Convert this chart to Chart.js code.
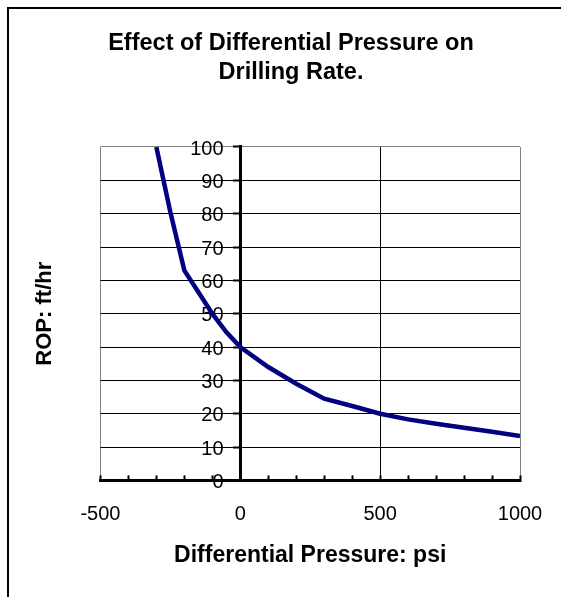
<!DOCTYPE html>
<html>
<head>
<meta charset="utf-8">
<script src="https://cdn.jsdelivr.net/npm/chart.js@4/dist/chart.umd.min.js"></script>
<style>
  html, body { margin: 0; padding: 0; background: #fff; overflow: hidden; }
  #wrap { position: relative; width: 561px; height: 597px; }
  #frame { position: absolute; left: 7px; top: 7px; right: -10px; bottom: -10px; border: 2px solid #000; pointer-events: none; }
  canvas { position: absolute; left: 0; top: 0; }
</style>
</head>
<body>
<div id="wrap">
  <canvas id="chart" width="561" height="597"></canvas>
  <div id="frame"></div>
</div>
<script>
// data
const pressure = [-300, -250, -200, -150, -100, -50, 0, 100, 200, 300, 400, 500, 600, 700, 800, 900, 1000];
const rop = [100, 80.5, 63, 56.5, 50, 44.5, 40, 34, 29, 24.5, 22.3, 20, 18.3, 17, 15.8, 14.6, 13.3];

const xMin = -500, xMax = 1000, xStep = 100, xLabelStep = 500;
const yMin = 0, yMax = 100, yStep = 10;

const titleLines = ['Effect of Differential Pressure on', 'Drilling Rate.'];
const xTitle = 'Differential Pressure: psi';
const yTitle = 'ROP: ft/hr';

const FONT = '"Liberation Sans", Arial, sans-serif';
const GRAY = '#808080';

Chart.defaults.font.family = FONT;
Chart.defaults.color = '#000';

const ctx = document.getElementById('chart').getContext('2d');

new Chart(ctx, {
  type: 'line',
  data: {
    datasets: [{
      data: pressure.map((p, i) => ({ x: p, y: rop[i] })),
      borderColor: '#000080',
      borderWidth: 4.5,
      pointRadius: 0,
      tension: 0,
      fill: false
    }]
  },
  options: {
    responsive: false,
    animation: false,
    layout: { padding: { top: 0, left: 21, right: 0, bottom: 24 } },
    plugins: {
      legend: { display: false },
      tooltip: { enabled: false },
      title: {
        display: true,
        text: titleLines,
        color: '#000',
        font: { size: 23.5, weight: 'bold', lineHeight: 1.234 },
        padding: { top: 29, bottom: 60 }
      }
    },
    scales: {
      x: {
        type: 'linear',
        position: 'bottom',
        min: xMin,
        max: xMax,
        border: { display: true, color: '#000', width: 3 },
        grid: {
          drawTicks: true,
          tickLength: -5,
          tickColor: '#000',
          tickWidth: 2,
          lineWidth: 1,
          color: (c) => {
            const v = c.tick ? c.tick.value : null;
            if (v === xMin || v === xMax) return GRAY;
            if (v === 500 || v === 0) return '#000';
            return 'rgba(0,0,0,0)';
          }
        },
        ticks: {
          stepSize: xStep,
          autoSkip: false,
          maxRotation: 0,
          padding: 3,
          color: '#000',
          font: { size: 20, lineHeight: 1.2 },
          // empty first line pushes the numbers down below the inward tick marks
          callback: (v) => (v % xLabelStep === 0 ? ['', String(v)] : '')
        },
        title: {
          display: true,
          text: xTitle,
          color: '#000',
          font: { size: 23, weight: 'bold' },
          padding: { top: 12, bottom: 4 }
        }
      },
      y: {
        type: 'linear',
        position: { x: 0 },
        min: yMin,
        max: yMax,
        border: { display: true, color: '#000', width: 3 },
        grid: {
          drawTicks: true,
          tickLength: 6,
          tickColor: '#000',
          tickWidth: 2,
          lineWidth: 1,
          color: (c) => (c.tick && c.tick.value === yMax ? GRAY : '#000')
        },
        ticks: {
          stepSize: yStep,
          padding: 0,
          labelOffset: 2,
          color: '#000',
          font: { size: 20 },
          // labels sit right against the crossing axis, spaces keep a gap like the original
          callback: (v) => v + '   '
        }
      },
      yLabel: {
        type: 'linear',
        position: 'left',
        display: true,
        grid: { display: false, drawTicks: false },
        border: { display: false },
        ticks: { display: false },
        title: {
          display: true,
          text: yTitle,
          color: '#000',
          font: { size: 22, weight: 'bold' },
          padding: { top: 11, bottom: 42 }
        }
      },
      // empty strip on the right so the plot ends where the original does
      yRight: {
        type: 'linear',
        position: 'right',
        display: true,
        grid: { display: false, drawTicks: false },
        border: { display: false },
        ticks: { display: false },
        afterFit: (scale) => { scale.width = 41; }
      }
    }
  }
});
</script>
</body>
</html>
